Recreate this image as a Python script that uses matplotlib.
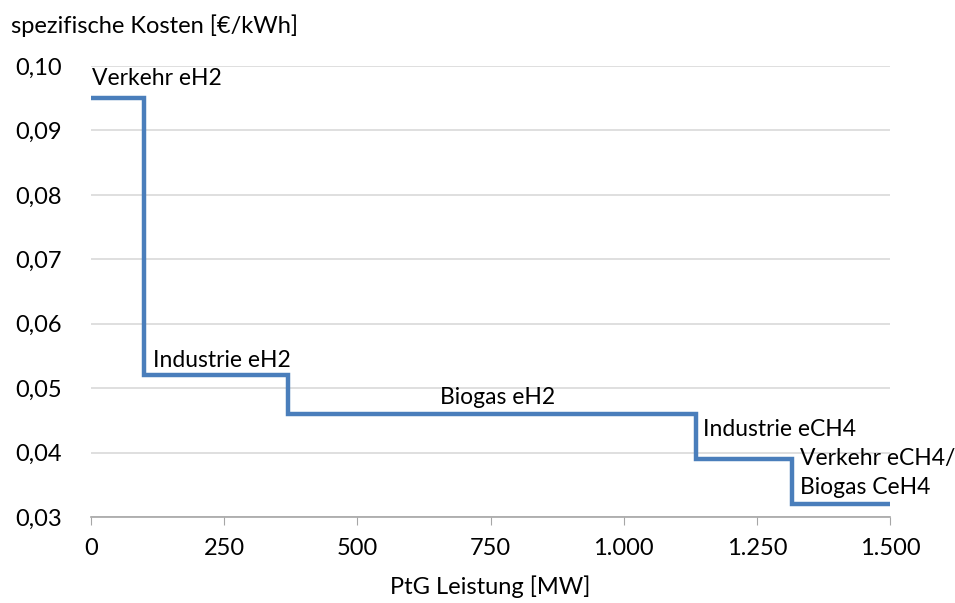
import matplotlib
matplotlib.use('Agg')
import matplotlib.pyplot as plt
from matplotlib.ticker import FuncFormatter

plt.rcParams['font.family'] = ['Lato', 'DejaVu Sans']

# step edges [MW] and specific cost per segment [EUR/kWh]
edges = [0, 100, 370, 1135, 1315, 1500]
costs = [0.095, 0.052, 0.046, 0.039, 0.032]

# segment labels (one entry per text line) and their baselines
names = ['Verkehr eH2', 'Industrie eH2', 'Biogas eH2', 'Industrie eCH4',
         'Verkehr eCH4/', 'Biogas CeH4']
label_x = [2, 116, 655, 1149, 1331, 1331]
label_y = [0.0970, 0.0533, 0.0475, 0.0426, 0.0381, 0.0335]

xticks = [0, 250, 500, 750, 1000, 1250, 1500]
yticks = [0.03, 0.04, 0.05, 0.06, 0.07, 0.08, 0.09, 0.10]

fig = plt.figure(figsize=(9.55, 6.03), dpi=100)
ax = fig.add_axes([0.0953, 0.1426, 0.8367, 0.7479])

ax.stairs(costs, edges, color='#4a7ebb', linewidth=3.2, baseline=None)

for n, x, y in zip(names, label_x, label_y):
    ax.text(x, y, n, fontsize=16.5, va='baseline', ha='left')

ax.set_xlim(0, 1500)
ax.set_ylim(0.03, 0.10)
ax.set_xticks(xticks)
ax.set_yticks(yticks)
ax.xaxis.set_major_formatter(FuncFormatter(lambda v, p: f'{int(v):,}'.replace(',', '.')))
ax.yaxis.set_major_formatter(FuncFormatter(lambda v, p: f'{v:.2f}'.replace('.', ',')))
ax.tick_params(axis='y', length=0, labelsize=17, pad=21)
ax.tick_params(axis='x', length=6, color='#a6a6a6', labelsize=17, pad=9)

ax.grid(axis='y', color='#d9d9d9', linewidth=1.2)
ax.set_axisbelow(True)
for s in ['top', 'right', 'left']:
    ax.spines[s].set_visible(False)
ax.spines['bottom'].set_color('#a6a6a6')
ax.spines['bottom'].set_linewidth(1.2)

ax.set_xlabel('PtG Leistung [MW]', fontsize=17, labelpad=12)
fig.text(0.011, 0.958, 'spezifische Kosten [€/kWh]', fontsize=17, va='center', ha='left')

fig.savefig('out.png', dpi=100)
